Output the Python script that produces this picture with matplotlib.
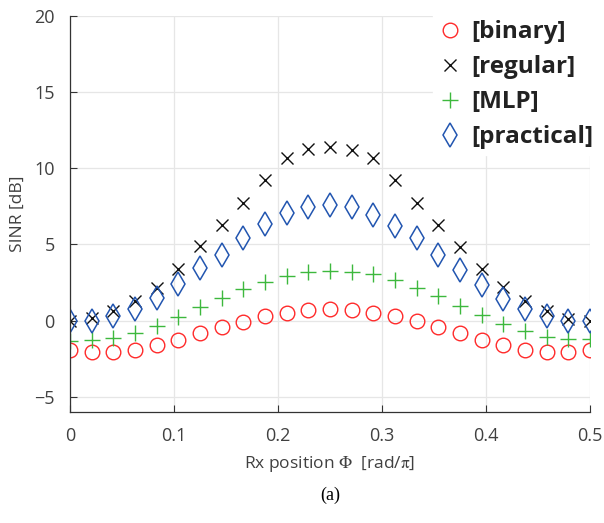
import numpy as np
import matplotlib
matplotlib.use("Agg")
import matplotlib.pyplot as plt

n_points = 25
x_max = 0.5
binary = [-1.96, -2.07, -2.07, -1.91, -1.63, -1.24, -0.83, -0.43, -0.07, 0.28, 0.52, 0.70, 0.74,
          0.70, 0.52, 0.28, -0.05, -0.43, -0.83, -1.24, -1.63, -1.91, -2.07, -2.07, -1.96]
regular = [0.0, 0.17, 0.61, 1.28, 2.17, 3.41, 4.89, 6.30, 7.70, 9.24, 10.70, 11.24, 11.39,
           11.20, 10.65, 9.24, 7.70, 6.26, 4.85, 3.37, 2.22, 1.26, 0.61, 0.11, 0.0]
mlp = [-1.35, -1.30, -1.13, -0.80, -0.35, 0.26, 0.87, 1.48, 2.09, 2.54, 2.96, 3.22, 3.28,
       3.22, 3.04, 2.67, 2.13, 1.61, 0.98, 0.37, -0.22, -0.65, -1.09, -1.22, -1.20]
practical = [-0.04, 0.0, 0.33, 0.76, 1.48, 2.43, 3.43, 4.30, 5.43, 6.35, 7.04, 7.48, 7.61,
             7.48, 6.96, 6.24, 5.43, 4.30, 3.33, 2.33, 1.41, 0.76, 0.33, 0.0, -0.04]
labels = ["[binary]", "[regular]", "[MLP]", "[practical]"]
xticks = [0, 0.1, 0.2, 0.3, 0.4, 0.5]
xticklabels = ['0', '0.1', '0.2', '0.3', '0.4', '0.5']
yticks = [-5, 0, 5, 10, 15, 20]

x = np.linspace(0, x_max, n_points)

plt.rcParams['font.family'] = ['Open Sans', 'DejaVu Sans']
plt.rcParams['mathtext.fontset'] = 'stix'
fig = plt.figure(figsize=(6.04, 5.23), dpi=100)
ax = fig.add_axes([0.1159, 0.2122, 0.8609, 0.7572])

tc = '#404040'
ax.plot(x, binary, linestyle='none', marker='o', ms=10.5, mfc='none', mec='#ff2a2a', mew=1.0, label=labels[0])
ax.plot(x, regular, linestyle='none', marker='x', ms=8, color='#111111', mew=1.0, label=labels[1])
ax.plot(x, mlp, linestyle='none', marker='+', ms=12, color='#3db83d', mew=1.0, label=labels[2])
ax.plot(x, practical, linestyle='none', marker='d', ms=12, mfc='none', mec='#2255b0', mew=1.1, label=labels[3])

ax.set_xlim(0, x_max)
ax.set_ylim(-6, 20)
ax.set_xticks(xticks)
ax.set_xticklabels(xticklabels)
ax.set_yticks(yticks)
ax.grid(True, color='#e6e6e6', linewidth=0.9)
ax.set_axisbelow(True)
for s in ['top', 'right']:
    ax.spines[s].set_visible(False)
for s in ['left', 'bottom']:
    ax.spines[s].set_color('#333333')
    ax.spines[s].set_linewidth(0.9)
ax.tick_params(direction='in', length=5, colors='#333333', labelsize=13)
ax.tick_params(axis='y', pad=11)
ax.tick_params(axis='x', pad=11)
for lbl in ax.get_xticklabels() + ax.get_yticklabels():
    lbl.set_color(tc)

ax.set_ylabel('SINR [dB]', fontsize=12.5, color=tc, labelpad=6)
ax.set_xlabel(r'Rx position $\mathrm{\Phi}$  [rad/$\mathrm{\pi}$]', fontsize=12.5, color=tc, labelpad=6)

leg = ax.legend(loc='upper right', bbox_to_anchor=(1.042, 1.035), frameon=True, fancybox=False,
                prop={'weight': 'bold', 'size': 17.5, 'family': ['Open Sans', 'DejaVu Sans']},
                handlelength=0.9, handletextpad=0.45, labelspacing=0.45, borderpad=0.25,
                markerscale=1.0)
leg.get_frame().set_facecolor('white')
leg.get_frame().set_edgecolor('white')
leg.get_frame().set_alpha(1.0)
for t in leg.get_texts():
    t.set_color('#222222')

fig.text(0.5 * (0.1159 + 0.9768), 1 - 495 / 523, '(a)', ha='center', va='center',
         fontsize=13, family='Liberation Serif', color='black')

fig.savefig('out.png', dpi=100)
